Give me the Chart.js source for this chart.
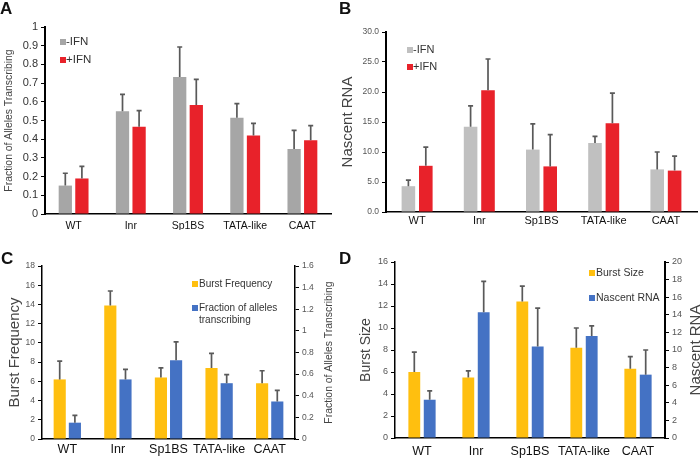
<!DOCTYPE html>
<html>
<head>
<meta charset="utf-8">
<script src="https://cdn.jsdelivr.net/npm/chart.js@4.4.1/dist/chart.umd.min.js"></script>
<style>
  body { margin: 0; background: #fff; font-family: "Liberation Sans", Arial, sans-serif; }
  #wrap { position: relative; width: 700px; height: 460px; overflow: hidden; }
  canvas { position: absolute; }
  .tag { position: absolute; font-weight: bold; font-size: 17px; line-height: 17px; color: #111; }
</style>
</head>
<body>
<div id="wrap">
  <canvas id="chartA" width="350" height="230" style="left:0;top:0"></canvas>
  <canvas id="chartB" width="365" height="230" style="left:335px;top:0"></canvas>
  <canvas id="chartC" width="350" height="230" style="left:0;top:230px"></canvas>
  <canvas id="chartD" width="350" height="230" style="left:350px;top:230px"></canvas>
  <div class="tag" style="left:0;top:0">A</div>
  <div class="tag" style="left:339px;top:0">B</div>
  <div class="tag" style="left:1px;top:250px">C</div>
  <div class="tag" style="left:339px;top:250px">D</div>
</div>
<script>
const promoters = ['WT', 'Inr', 'Sp1BS', 'TATA-like', 'CAAT'];

// A - fraction of alleles transcribing, -IFN / +IFN (value, upward error)
const fracMinusIFN = [0.152, 0.55, 0.733, 0.515, 0.348];
const fracMinusIFNErr = [0.066, 0.09, 0.16, 0.075, 0.099];
const fracPlusIFN = [0.19, 0.467, 0.583, 0.42, 0.395];
const fracPlusIFNErr = [0.065, 0.086, 0.137, 0.065, 0.078];

// B - nascent RNA, -IFN / +IFN
const rnaMinusIFN = [4.3, 14.2, 10.4, 11.5, 7.1];
const rnaMinusIFNErr = [1.0, 3.5, 4.3, 1.1, 2.9];
const rnaPlusIFN = [7.7, 20.3, 7.6, 14.8, 6.9];
const rnaPlusIFNErr = [3.1, 5.2, 5.3, 5.0, 2.4];

// C - burst frequency (left axis) vs fraction of alleles (right axis)
const burstFreq = [6.2, 13.9, 6.4, 7.4, 5.8];
const burstFreqErr = [1.9, 1.5, 1.0, 1.5, 1.3];
const fracAlleles = [0.151, 0.551, 0.729, 0.516, 0.347];
const fracAllelesErr = [0.067, 0.093, 0.169, 0.08, 0.102];

// D - burst size (left axis) vs nascent RNA (right axis)
const burstSize = [6.0, 5.5, 12.4, 8.2, 6.3];
const burstSizeErr = [1.8, 0.6, 1.4, 1.8, 1.1];
const nascentRNA = [4.35, 14.3, 10.4, 11.6, 7.2];
const nascentRNAErr = [1.0, 3.5, 4.35, 1.15, 2.8];

const GRAY_A = '#a6a6a6';
const GRAY_B = '#c0c0c0';
const RED = '#e8222a';
const GOLD = '#ffbf0f';
const BLUE = '#4472c4';
const FONT = '"Liberation Sans", Arial, sans-serif';

// upward-only error bars with a small cap
const errorBars = {
  id: 'errorBars',
  afterDatasetsDraw(chart) {
    const ctx = chart.ctx;
    chart.data.datasets.forEach((ds, i) => {
      if (!ds.errors) return;
      const meta = chart.getDatasetMeta(i);
      const scale = chart.scales[meta.yAxisID];
      meta.data.forEach((bar, j) => {
        const top = scale.getPixelForValue(ds.data[j] + ds.errors[j]);
        ctx.save();
        ctx.strokeStyle = '#595959';
        ctx.lineWidth = 1.7;
        ctx.beginPath();
        ctx.moveTo(bar.x, bar.y);
        ctx.lineTo(bar.x, top);
        ctx.moveTo(bar.x - 2.5, top);
        ctx.lineTo(bar.x + 2.5, top);
        ctx.stroke();
        ctx.restore();
      });
    });
  }
};

// small square legend placed inside the plot
const boxLegend = {
  id: 'boxLegend',
  afterDraw(chart, args, opts) {
    const ctx = chart.ctx;
    ctx.save();
    ctx.font = opts.font;
    ctx.textBaseline = 'middle';
    let y = opts.y;
    chart.data.datasets.forEach(ds => {
      ctx.fillStyle = ds.backgroundColor;
      ctx.fillRect(opts.x, y - 3, 6, 6);
      ctx.fillStyle = '#333';
      ds.label.split('\n').forEach((line, k) => {
        ctx.fillText(line, opts.x + opts.textGap, y + k * opts.lineHeight);
      });
      y += opts.gap;
    });
    ctx.restore();
  }
};

// right-hand axis title, reading bottom-to-top like the left one
const sideTitle = {
  id: 'sideTitle',
  afterDraw(chart, args, opts) {
    if (!opts.text) return;
    const ctx = chart.ctx;
    const area = chart.chartArea;
    ctx.save();
    ctx.translate(opts.x, (area.top + area.bottom) / 2);
    ctx.rotate(-Math.PI / 2);
    ctx.font = opts.size + 'px ' + FONT;
    ctx.fillStyle = '#444';
    ctx.textAlign = 'center';
    ctx.textBaseline = 'middle';
    ctx.fillText(opts.text, 0, 0);
    ctx.restore();
  }
};

function yAxis(o) {
  return {
    position: o.position || 'left',
    min: o.min, max: o.max,
    afterFit: s => { s.width = o.width; },
    ticks: {
      stepSize: o.step,
      color: o.tickColor || '#555',
      font: { family: FONT, size: o.tickSize },
      padding: 3,
      callback: o.fmt || (v => Math.round(v * 100) / 100)
    },
    grid: { drawOnChartArea: false, drawTicks: true, tickLength: 4, color: '#000', lineWidth: 1 },
    border: { color: '#000', width: o.border || 1.5 },
    title: {
      display: !!o.title, text: o.title, color: '#444',
      font: { family: FONT, size: o.titleSize },
      padding: { top: o.titlePad, bottom: o.titlePad }
    }
  };
}

function xAxis(height, pad, size) {
  return {
    afterFit: s => { s.height = height; },
    ticks: { color: '#111', font: { family: FONT, size: size }, padding: pad, maxRotation: 0, autoSkip: false },
    grid: { display: false, drawTicks: false },
    border: { color: '#000', width: 1.5 }
  };
}

function bars(label, data, errors, color, axis, cp, bp) {
  return {
    label: label, data: data, errors: errors,
    backgroundColor: color, yAxisID: axis,
    categoryPercentage: cp, barPercentage: bp
  };
}

// A
new Chart(document.getElementById('chartA'), {
  type: 'bar',
  data: {
    labels: promoters,
    datasets: [
      bars('-IFN', fracMinusIFN, fracMinusIFNErr, GRAY_A, 'y', 0.58, 0.8),
      bars('+IFN', fracPlusIFN, fracPlusIFNErr, RED, 'y', 0.58, 0.8)
    ]
  },
  options: {
    responsive: false, animation: false,
    layout: { padding: { top: 27, right: 19, left: 0, bottom: 0 } },
    scales: {
      x: xAxis(16, 6, 10.5),
      y: yAxis({ min: 0, max: 1, step: 0.1, width: 45, tickSize: 11, tickColor: '#333',
        title: 'Fraction of Alleles Transcribing', titleSize: 10.4, titlePad: 3, border: 2 })
    },
    plugins: {
      legend: { display: false }, tooltip: { enabled: false },
      boxLegend: { x: 60, y: 42, gap: 18, lineHeight: 12, textGap: 6, font: '11.5px ' + FONT }
    }
  },
  plugins: [errorBars, boxLegend]
});

// B
new Chart(document.getElementById('chartB'), {
  type: 'bar',
  data: {
    labels: promoters,
    datasets: [
      bars('-IFN', rnaMinusIFN, rnaMinusIFNErr, GRAY_B, 'y', 0.56, 0.78),
      bars('+IFN', rnaPlusIFN, rnaPlusIFNErr, RED, 'y', 0.56, 0.78)
    ]
  },
  options: {
    responsive: false, animation: false,
    layout: { padding: { top: 32, right: 3, left: 0, bottom: 0 } },
    scales: {
      x: xAxis(18, 2, 11),
      y: yAxis({ min: 0, max: 30, step: 5, width: 51, tickSize: 8.5, fmt: v => v.toFixed(1),
        title: 'Nascent RNA', titleSize: 15, titlePad: 4, border: 2 })
    },
    plugins: {
      legend: { display: false }, tooltip: { enabled: false },
      boxLegend: { x: 72, y: 50, gap: 17, lineHeight: 12, textGap: 6, font: '11px ' + FONT }
    }
  },
  plugins: [errorBars, boxLegend]
});

// C
new Chart(document.getElementById('chartC'), {
  type: 'bar',
  data: {
    labels: promoters,
    datasets: [
      bars('Burst Frequency', burstFreq, burstFreqErr, GOLD, 'y', 0.6, 0.8),
      bars('Fraction of alleles\ntranscribing', fracAlleles, fracAllelesErr, BLUE, 'y2', 0.6, 0.8)
    ]
  },
  options: {
    responsive: false, animation: false,
    layout: { padding: { top: 36, right: 12, left: 0, bottom: 0 } },
    scales: {
      x: xAxis(21, 3, 12.5),
      y: yAxis({ min: 0, max: 18, step: 2, width: 42, tickSize: 8.5,
        title: 'Burst Frequency', titleSize: 15, titlePad: 6 }),
      y2: yAxis({ position: 'right', min: 0, max: 1.6, step: 0.2, width: 43, tickSize: 8.5 })
    },
    plugins: {
      legend: { display: false }, tooltip: { enabled: false },
      boxLegend: { x: 192, y: 54, gap: 24, lineHeight: 12, textGap: 7, font: '10px ' + FONT },
      sideTitle: { text: 'Fraction of Alleles Transcribing', x: 329, size: 10.4 }
    }
  },
  plugins: [errorBars, boxLegend, sideTitle]
});

// D
new Chart(document.getElementById('chartD'), {
  type: 'bar',
  data: {
    labels: promoters,
    datasets: [
      bars('Burst Size', burstSize, burstSizeErr, GOLD, 'y', 0.57, 0.77),
      bars('Nascent RNA', nascentRNA, nascentRNAErr, BLUE, 'y2', 0.57, 0.77)
    ]
  },
  options: {
    responsive: false, animation: false,
    layout: { padding: { top: 32, right: 0, left: 0, bottom: 0 } },
    scales: {
      x: xAxis(22, 6, 12.5),
      y: yAxis({ min: 0, max: 16, step: 2, width: 45, tickSize: 9,
        title: 'Burst Size', titleSize: 14, titlePad: 8 }),
      y2: yAxis({ position: 'right', min: 0, max: 20, step: 2, width: 35, tickSize: 9, border: 2 })
    },
    plugins: {
      legend: { display: false }, tooltip: { enabled: false },
      boxLegend: { x: 239, y: 43, gap: 25, lineHeight: 12, textGap: 7, font: '10.5px ' + FONT },
      sideTitle: { text: 'Nascent RNA', x: 346, size: 15 }
    }
  },
  plugins: [errorBars, boxLegend, sideTitle]
});
</script>
</body>
</html>
